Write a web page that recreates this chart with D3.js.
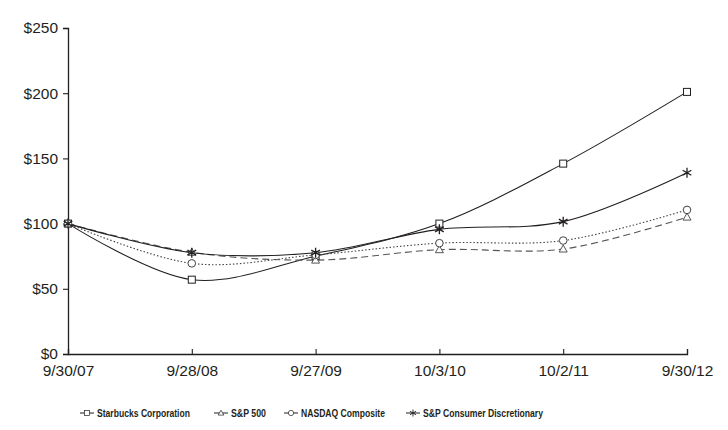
<!DOCTYPE html>
<html>
<head>
<meta charset="utf-8">
<script src="https://cdn.jsdelivr.net/npm/d3@7"></script>
<style>
  body { margin: 0; background: #fff; }
  text { font-family: "Liberation Sans", Arial, sans-serif; fill: #231f20; }
</style>
</head>
<body>
<div id="chart"></div>
<script>
// ---------------------------------------------------------------------------
// DATA
// ---------------------------------------------------------------------------
const dates = ["9/30/07", "9/28/08", "9/27/09", "10/3/10", "10/2/11", "9/30/12"];
const seriesNames = ["Starbucks Corporation", "S&P 500", "NASDAQ Composite", "S&P Consumer Discretionary"];
const starbucks = [100, 57, 75, 100, 146, 201];
const sp500     = [100, 78, 72, 80, 80.5, 105];
const nasdaq    = [100, 69.5, 76, 85, 87, 110.5];
const spcd      = [100, 77.7, 77.7, 95.6, 101.5, 139];
const yTicks    = [0, 50, 100, 150, 200, 250];

const series = [
  { name: seriesNames[0], values: starbucks, marker: "square",   dash: null,    color: "#231f20" },
  { name: seriesNames[1], values: sp500,     marker: "triangle", dash: "7,4",   color: "#555" },
  { name: seriesNames[2], values: nasdaq,    marker: "circle",   dash: "1.5,2", color: "#444" },
  { name: seriesNames[3], values: spcd,      marker: "star",     dash: null,    color: "#231f20" }
];

// ---------------------------------------------------------------------------
// SVG setup
// ---------------------------------------------------------------------------
const W = 728, H = 430;
const margin = { top: 28, right: 41, bottom: 76, left: 68 };
const width = W - margin.left - margin.right;
const height = H - margin.top - margin.bottom;

const svg = d3.select("#chart").append("svg")
  .attr("width", W).attr("height", H);

const g = svg.append("g")
  .attr("transform", `translate(${margin.left},${margin.top})`);

const x = d3.scalePoint().domain(dates).range([0, width]);
const y = d3.scaleLinear().domain([0, 250]).range([height, 0]);

// Axes
const yAxis = g.append("g")
  .call(d3.axisLeft(y).tickValues(yTicks).tickSize(5).tickPadding(5).tickFormat(d => "$" + d));
const xAxis = g.append("g")
  .attr("transform", `translate(0,${height})`)
  .call(d3.axisBottom(x).tickSize(-5).tickPadding(10));

[yAxis, xAxis].forEach(a => {
  a.select(".domain").attr("stroke", "#231f20").attr("stroke-width", 1.3);
  a.selectAll(".tick line").attr("stroke", "#231f20").attr("stroke-width", 1.1);
  a.selectAll("text").style("font-size", "15.5px").attr("fill", "#231f20");
});
xAxis.selectAll(".tick text").attr("y", 11).attr("dy", "0.71em");

// ---------------------------------------------------------------------------
// Markers
// ---------------------------------------------------------------------------
function drawMarker(sel, type, cx, cy, color) {
  if (type === "square") {
    sel.append("rect").attr("x", cx - 3.5).attr("y", cy - 3.5).attr("width", 7).attr("height", 7)
      .attr("fill", "#fff").attr("stroke", color).attr("stroke-width", 1);
  } else if (type === "triangle") {
    sel.append("path").attr("d", `M${cx},${cy - 4}L${cx + 4},${cy + 3}L${cx - 4},${cy + 3}Z`)
      .attr("fill", "#fff").attr("stroke", color).attr("stroke-width", 1);
  } else if (type === "circle") {
    sel.append("circle").attr("cx", cx).attr("cy", cy).attr("r", 3.8)
      .attr("fill", "#fff").attr("stroke", color).attr("stroke-width", 1);
  } else if (type === "star") {
    const r = 5;
    const d = [90, 30, 150].map(a => {
      const t = a * Math.PI / 180;
      return `M${cx - r * Math.cos(t)},${cy - r * Math.sin(t)}L${cx + r * Math.cos(t)},${cy + r * Math.sin(t)}`;
    }).join("");
    sel.append("path").attr("d", d).attr("stroke", color).attr("stroke-width", 1.3).attr("fill", "none");
  }
}

const line = d3.line()
  .x((d, i) => x(dates[i]))
  .y(d => y(d))
  .curve(d3.curveCatmullRom.alpha(0.5));

series.forEach(s => {
  g.append("path")
    .datum(s.values)
    .attr("fill", "none")
    .attr("stroke", s.color)
    .attr("stroke-width", 1.1)
    .attr("stroke-dasharray", s.dash)
    .attr("d", line);
});

series.forEach(s => {
  const mg = g.append("g");
  s.values.forEach((v, i) => drawMarker(mg, s.marker, x(dates[i]), y(v), s.color));
});

// ---------------------------------------------------------------------------
// Legend
// ---------------------------------------------------------------------------
const legendX = [80, 214, 284, 406];
const legendW = [93, 35, 84, 120];
const legendY = 413;
const legend = svg.append("g");
series.forEach((s, i) => {
  const lx = legendX[i];
  legend.append("line")
    .attr("x1", lx).attr("x2", lx + 14).attr("y1", legendY).attr("y2", legendY)
    .attr("stroke", "#231f20").attr("stroke-width", 1);
  const mg = legend.append("g").attr("transform", `translate(${lx + 7},${legendY}) scale(0.7) translate(${-(lx + 7)},${-legendY})`);
  drawMarker(mg, s.marker, lx + 7, legendY, "#231f20");
  legend.append("text")
    .attr("x", lx + 17).attr("y", legendY).attr("dy", "0.36em")
    .attr("textLength", legendW[i]).attr("lengthAdjust", "spacingAndGlyphs")
    .style("font-size", "11.5px").style("font-weight", "bold")
    .text(s.name);
});
</script>
</body>
</html>
